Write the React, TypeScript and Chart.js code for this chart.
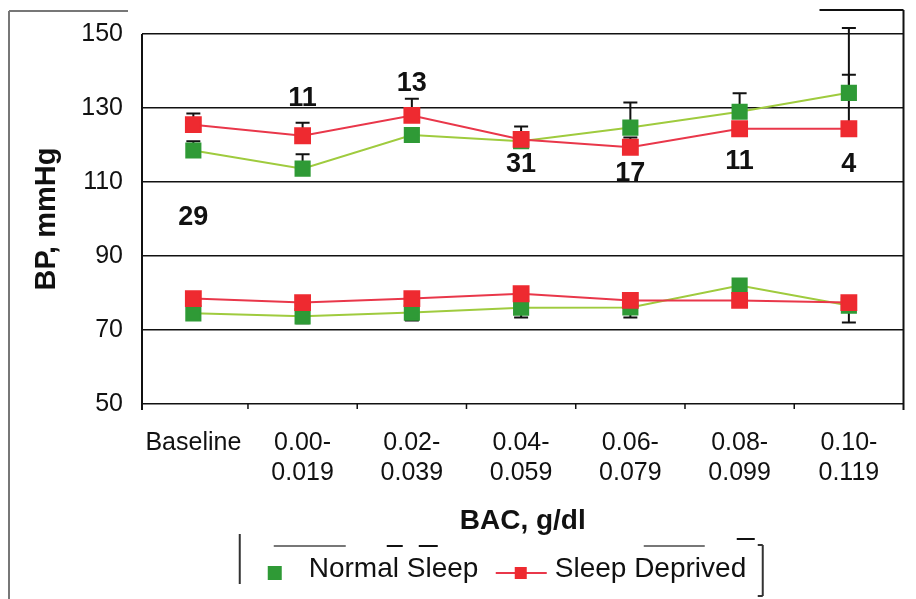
import React, { useEffect, useRef } from "react";
import { Chart, registerables } from "chart.js";

Chart.register(...registerables);

// ---- data ----
const categories = ["Baseline", "0.00-0.019", "0.02-0.039", "0.04-0.059", "0.06-0.079", "0.08-0.099", "0.10-0.119"];
const tickLabels: string[][] = [
  ["Baseline"],
  ["0.00-", "0.019"],
  ["0.02-", "0.039"],
  ["0.04-", "0.059"],
  ["0.06-", "0.079"],
  ["0.08-", "0.099"],
  ["0.10-", "0.119"],
];
const yTicks = [50, 70, 90, 110, 130, 150];

const normalSystolic = [118.5, 113.6, 122.7, 121, 124.7, 129, 134.1];
const normalSystolicErrHigh: (number | null)[] = [121, 117.5, null, null, 131.5, 134, 139];
const deprivedSystolic = [125.5, 122.5, 128, 121.5, 119.4, 124.4, 124.4];
const deprivedSystolicErrHigh: (number | null)[] = [128.5, 126, 132.5, 125, 122, null, 151.6];

const normalDiastolic = [74.5, 73.7, 74.7, 76, 76.1, 82, 76.6];
const normalDiastolicErrLow: (number | null)[] = [72.8, 71.8, 72.6, 73.4, 73.4, null, 72];
const deprivedDiastolic = [78.5, 77.4, 78.5, 79.8, 78, 78, 77.4];

const sampleSizes = ["29", "11", "13", "31", "17", "11", "4"];
const sampleSizeY = [100.3, 132.6, 136.7, 114.8, 112.4, 115.4, 114.8];

const legendLabels = ["Normal Sleep", "Sleep Deprived"];

// ---- styles ----
const FONT = "'Liberation Sans', Arial, Helvetica, sans-serif";
const GREEN_LINE = "#9fcb3e";
const GREEN_MARK = "#2f9a36";
const RED_LINE = "#e9374a";
const RED_MARK = "#ee2a30";

const toXY = (arr: number[]) => arr.map((y, i) => ({ x: i, y }));

const errorBarPlugin = {
  id: "errorBars",
  beforeDatasetsDraw(chart: any) {
    const { ctx, scales } = chart;
    const xs = scales.x;
    const ys = scales.y;
    ctx.save();
    ctx.strokeStyle = "#111";
    ctx.lineWidth = 2;
    chart.data.datasets.forEach((ds: any) => {
      const ends: (number | null)[] | undefined = ds.errEnds;
      if (!ends) return;
      ds.data.forEach((pt: any, i: number) => {
        const e = ends[i];
        if (e == null) return;
        const px = xs.getPixelForValue(pt.x);
        const py = ys.getPixelForValue(pt.y);
        const ey = ys.getPixelForValue(e);
        ctx.beginPath();
        ctx.moveTo(px, py);
        ctx.lineTo(px, ey);
        ctx.moveTo(px - 7, ey);
        ctx.lineTo(px + 7, ey);
        ctx.stroke();
      });
    });
    ctx.restore();
  },
};

const annotationPlugin = {
  id: "sampleSizes",
  afterDatasetsDraw(chart: any) {
    const { ctx, scales } = chart;
    ctx.save();
    ctx.fillStyle = "#111";
    ctx.font = `bold 27px ${FONT}`;
    ctx.textAlign = "center";
    ctx.textBaseline = "middle";
    sampleSizes.forEach((s, i) => {
      ctx.fillText(s, scales.x.getPixelForValue(i), scales.y.getPixelForValue(sampleSizeY[i]));
    });
    ctx.restore();
  },
};

const framePlugin = {
  id: "frameAndLegend",
  afterDraw(chart: any) {
    const { ctx, chartArea, scales } = chart;
    const { left, right, top, bottom } = chartArea;
    ctx.save();
    // plot borders
    ctx.strokeStyle = "#111";
    ctx.lineWidth = 2;
    ctx.beginPath();
    ctx.moveTo(left, top);
    ctx.lineTo(left, bottom + 6);
    ctx.moveTo(right, top - 24);
    ctx.lineTo(right, bottom + 6);
    ctx.moveTo(right - 84, top - 24);
    ctx.lineTo(right, top - 24);
    ctx.stroke();
    // category boundary tick marks
    ctx.lineWidth = 1.5;
    ctx.beginPath();
    for (let i = 0; i < categories.length - 1; i++) {
      const x = scales.x.getPixelForValue(i + 0.5);
      ctx.moveTo(x, bottom);
      ctx.lineTo(x, bottom + 5);
    }
    ctx.stroke();
    // outer frame (left)
    ctx.strokeStyle = "#777";
    ctx.lineWidth = 2;
    ctx.beginPath();
    ctx.moveTo(9, 11);
    ctx.lineTo(9, chart.height);
    ctx.moveTo(9, 11);
    ctx.lineTo(128, 11);
    ctx.stroke();

    // legend
    const ly = bottom + 165;
    const cx = (left + right) / 2;
    // frame fragments
    ctx.strokeStyle = "#333";
    ctx.lineWidth = 2;
    ctx.beginPath();
    ctx.moveTo(cx - 283, ly - 35);
    ctx.lineTo(cx - 283, ly + 15);
    ctx.moveTo(cx + 240, ly - 24);
    ctx.lineTo(cx + 240, ly + 27);
    ctx.moveTo(cx + 235, ly - 24);
    ctx.lineTo(cx + 240, ly - 24);
    ctx.moveTo(cx + 235, ly + 27);
    ctx.lineTo(cx + 240, ly + 27);
    ctx.stroke();
    ctx.strokeStyle = "#777";
    ctx.beginPath();
    ctx.moveTo(cx - 249, ly - 23);
    ctx.lineTo(cx - 177, ly - 23);
    ctx.moveTo(cx + 121, ly - 23);
    ctx.lineTo(cx + 182, ly - 23);
    ctx.stroke();
    ctx.strokeStyle = "#111";
    ctx.beginPath();
    ctx.moveTo(cx - 136, ly - 23);
    ctx.lineTo(cx - 120, ly - 23);
    ctx.moveTo(cx - 104, ly - 23);
    ctx.lineTo(cx - 85, ly - 23);
    ctx.moveTo(cx + 214, ly - 30);
    ctx.lineTo(cx + 232, ly - 30);
    ctx.stroke();

    ctx.font = `28px ${FONT}`;
    ctx.textBaseline = "middle";
    ctx.textAlign = "left";
    // Normal Sleep item
    ctx.fillStyle = GREEN_MARK;
    ctx.fillRect(cx - 255, ly - 3, 14, 14);
    ctx.fillStyle = "#111";
    ctx.fillText(legendLabels[0], cx - 214, ly);
    // Sleep Deprived item
    ctx.strokeStyle = RED_LINE;
    ctx.lineWidth = 2;
    ctx.beginPath();
    ctx.moveTo(cx - 27, ly + 4);
    ctx.lineTo(cx + 24, ly + 4);
    ctx.stroke();
    ctx.fillStyle = RED_MARK;
    ctx.fillRect(cx - 8, ly - 2, 12, 12);
    ctx.fillStyle = "#111";
    ctx.fillText(legendLabels[1], cx + 32, ly);
    ctx.restore();
  },
};

export default function App() {
  const canvasRef = useRef<HTMLCanvasElement | null>(null);

  useEffect(() => {
    if (!canvasRef.current) return;
    const greenCommon = {
      borderColor: GREEN_LINE,
      backgroundColor: GREEN_MARK,
      pointBackgroundColor: GREEN_MARK,
      pointBorderColor: GREEN_MARK,
      pointStyle: "rect" as const,
      pointRadius: 10,
      borderWidth: 2,
      tension: 0,
      order: 2,
    };
    const redCommon = {
      borderColor: RED_LINE,
      backgroundColor: RED_MARK,
      pointBackgroundColor: RED_MARK,
      pointBorderColor: RED_MARK,
      pointStyle: "rect" as const,
      pointRadius: 10.5,
      borderWidth: 2,
      tension: 0,
      order: 1,
    };
    const chart = new Chart(canvasRef.current, {
      type: "line",
      data: {
        datasets: [
          { label: legendLabels[0], data: toXY(normalSystolic), errEnds: normalSystolicErrHigh, ...greenCommon } as any,
          { label: legendLabels[0], data: toXY(normalDiastolic), errEnds: normalDiastolicErrLow, ...greenCommon } as any,
          { label: legendLabels[1], data: toXY(deprivedSystolic), errEnds: deprivedSystolicErrHigh, ...redCommon } as any,
          { label: legendLabels[1], data: toXY(deprivedDiastolic), ...redCommon } as any,
        ],
      },
      options: {
        animation: false,
        responsive: true,
        maintainAspectRatio: false,
        layout: { padding: { top: 32, right: 4, bottom: 55, left: 0 } },
        plugins: {
          legend: { display: false },
          tooltip: { enabled: false },
          title: { display: false },
        },
        scales: {
          x: {
            type: "linear",
            min: -0.47,
            max: 6.5,
            afterBuildTicks: (scale: any) => {
              scale.ticks = categories.map((_, i) => ({ value: i }));
            },
            afterFit: (scale: any) => {
              scale.height = 140;
            },
            grid: { display: false },
            border: { display: false },
            ticks: {
              autoSkip: false,
              maxRotation: 0,
              padding: 16,
              color: "#111",
              font: { family: FONT, size: 25, lineHeight: 1.2 },
              callback: (v: any) => tickLabels[Math.round(Number(v))] ?? "",
            },
            title: {
              display: true,
              text: "BAC, g/dl",
              color: "#111",
              font: { family: FONT, size: 28, weight: "bold" },
              padding: { top: 0, bottom: 6 },
            },
          },
          y: {
            min: 50,
            max: 150,
            afterBuildTicks: (scale: any) => {
              scale.ticks = yTicks.map((v) => ({ value: v }));
            },
            afterFit: (scale: any) => {
              scale.width = 142;
            },
            grid: { color: "#111", lineWidth: 1.6, drawTicks: false },
            border: { display: false },
            ticks: {
              padding: 19,
              color: "#111",
              font: { family: FONT, size: 25 },
            },
            title: {
              display: true,
              text: "BP, mmHg",
              color: "#111",
              font: { family: FONT, size: 29, weight: "bold" },
              padding: { top: 30, bottom: 0 },
            },
          },
        },
      },
      plugins: [errorBarPlugin, annotationPlugin, framePlugin],
    });
    return () => chart.destroy();
  }, []);

  return (
    <div style={{ position: "fixed", left: 0, top: 0, width: 916, height: 599, background: "#fff" }}>
      <canvas ref={canvasRef} />
    </div>
  );
}
